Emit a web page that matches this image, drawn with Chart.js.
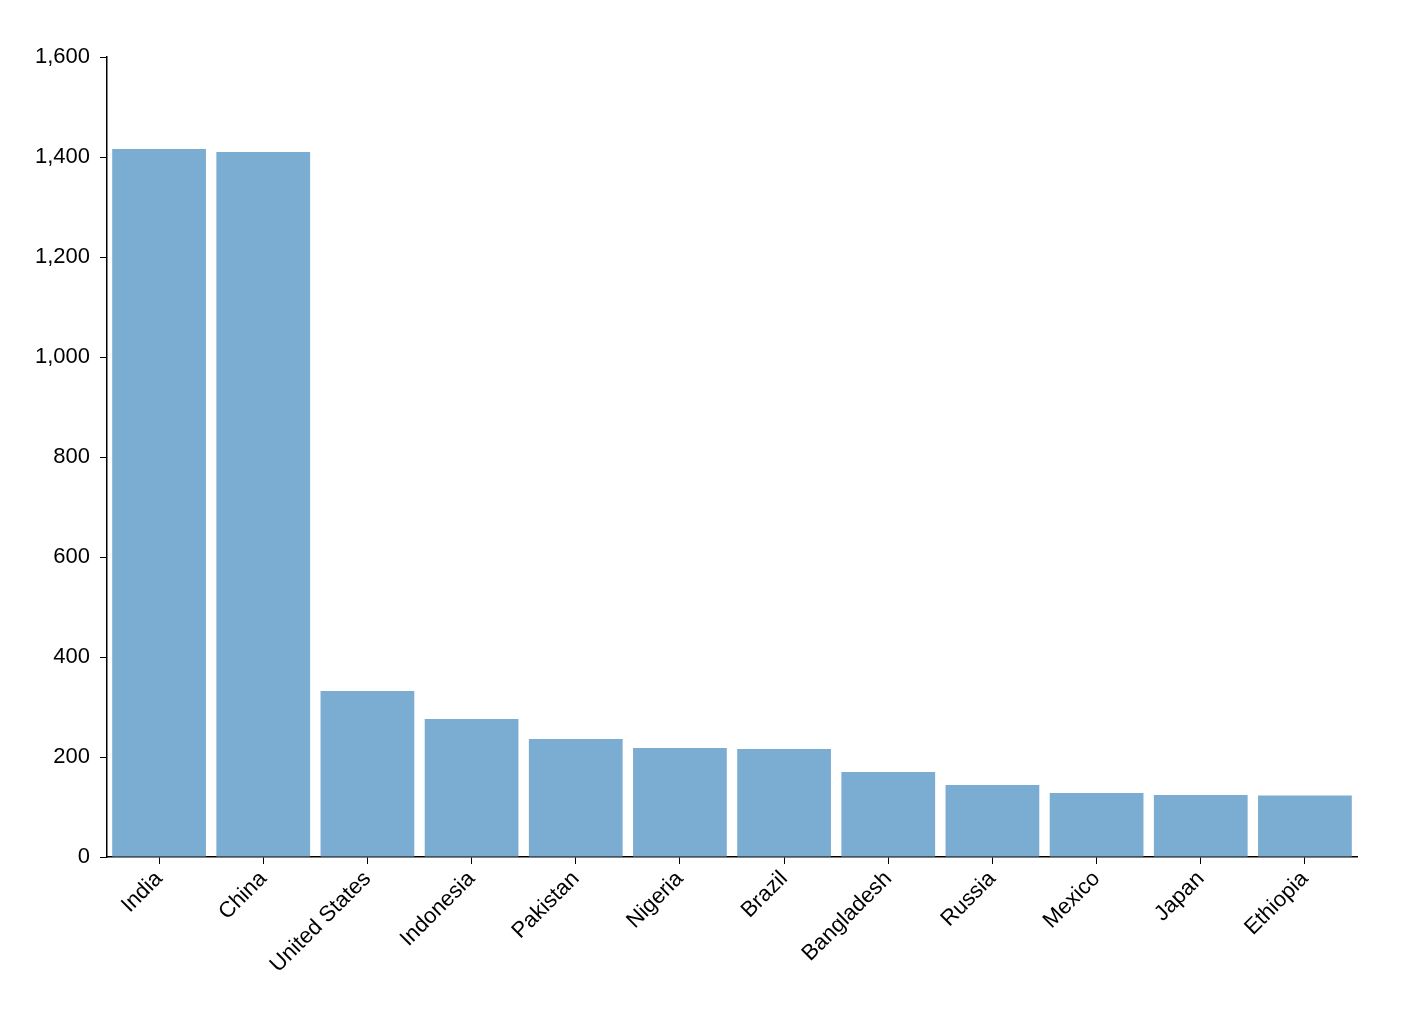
<!DOCTYPE html>
<html>
<head>
<meta charset="utf-8">
<script src="https://cdn.jsdelivr.net/npm/chart.js@4"></script>
<style>
  html, body { margin: 0; padding: 0; background: #fff; }
  #wrap { width: 1404px; height: 1030px; }
</style>
</head>
<body>
<div id="wrap"><canvas id="chart"></canvas></div>
<script>
// population in millions
var countries = ["India", "China", "United States", "Indonesia", "Pakistan", "Nigeria",
    "Brazil", "Bangladesh", "Russia", "Mexico", "Japan", "Ethiopia"];
var population = [1416, 1410, 332, 276, 236, 218, 216, 170, 144, 128, 124, 123];
var yTicks = [0, 200, 400, 600, 800, 1000, 1200, 1400, 1600];

Chart.defaults.font.family = "'Liberation Sans', Arial, sans-serif";
Chart.defaults.color = "#000";

var ctx = document.getElementById("chart");
new Chart(ctx, {
    type: "bar",
    data: {
        labels: countries,
        datasets: [{
            data: population,
            backgroundColor: "#7bacd1",
            barPercentage: 0.9,
            categoryPercentage: 1.0,
        }],
    },
    options: {
        responsive: true,
        maintainAspectRatio: false,
        animation: false,
        layout: { padding: { top: 57, right: 47, bottom: 0, left: 0 } },
        plugins: { legend: { display: false }, tooltip: { enabled: false } },
        scales: {
            x: {
                offset: true,
                grid: { offset: false, drawOnChartArea: false, drawTicks: true, tickLength: 7, color: "#000" },
                border: { color: "#000", width: 1.5 },
                ticks: { font: { size: 22 }, maxRotation: 45, minRotation: 45, padding: 2 },
                afterFit: function (s) { s.height = 173; },
            },
            y: {
                min: 0,
                max: 1600,
                afterBuildTicks: function (s) { s.ticks = yTicks.map(function (v) { return { value: v }; }); },
                grid: { drawOnChartArea: false, drawTicks: true, tickLength: 7, color: "#000" },
                border: { color: "#000", width: 1.5 },
                ticks: {
                    font: { size: 22 },
                    padding: 10,
                    callback: function (v) { return v.toLocaleString("en-US"); },
                },
                afterFit: function (s) { s.width = 107; },
            },
        },
    },
});
</script>
</body>
</html>
